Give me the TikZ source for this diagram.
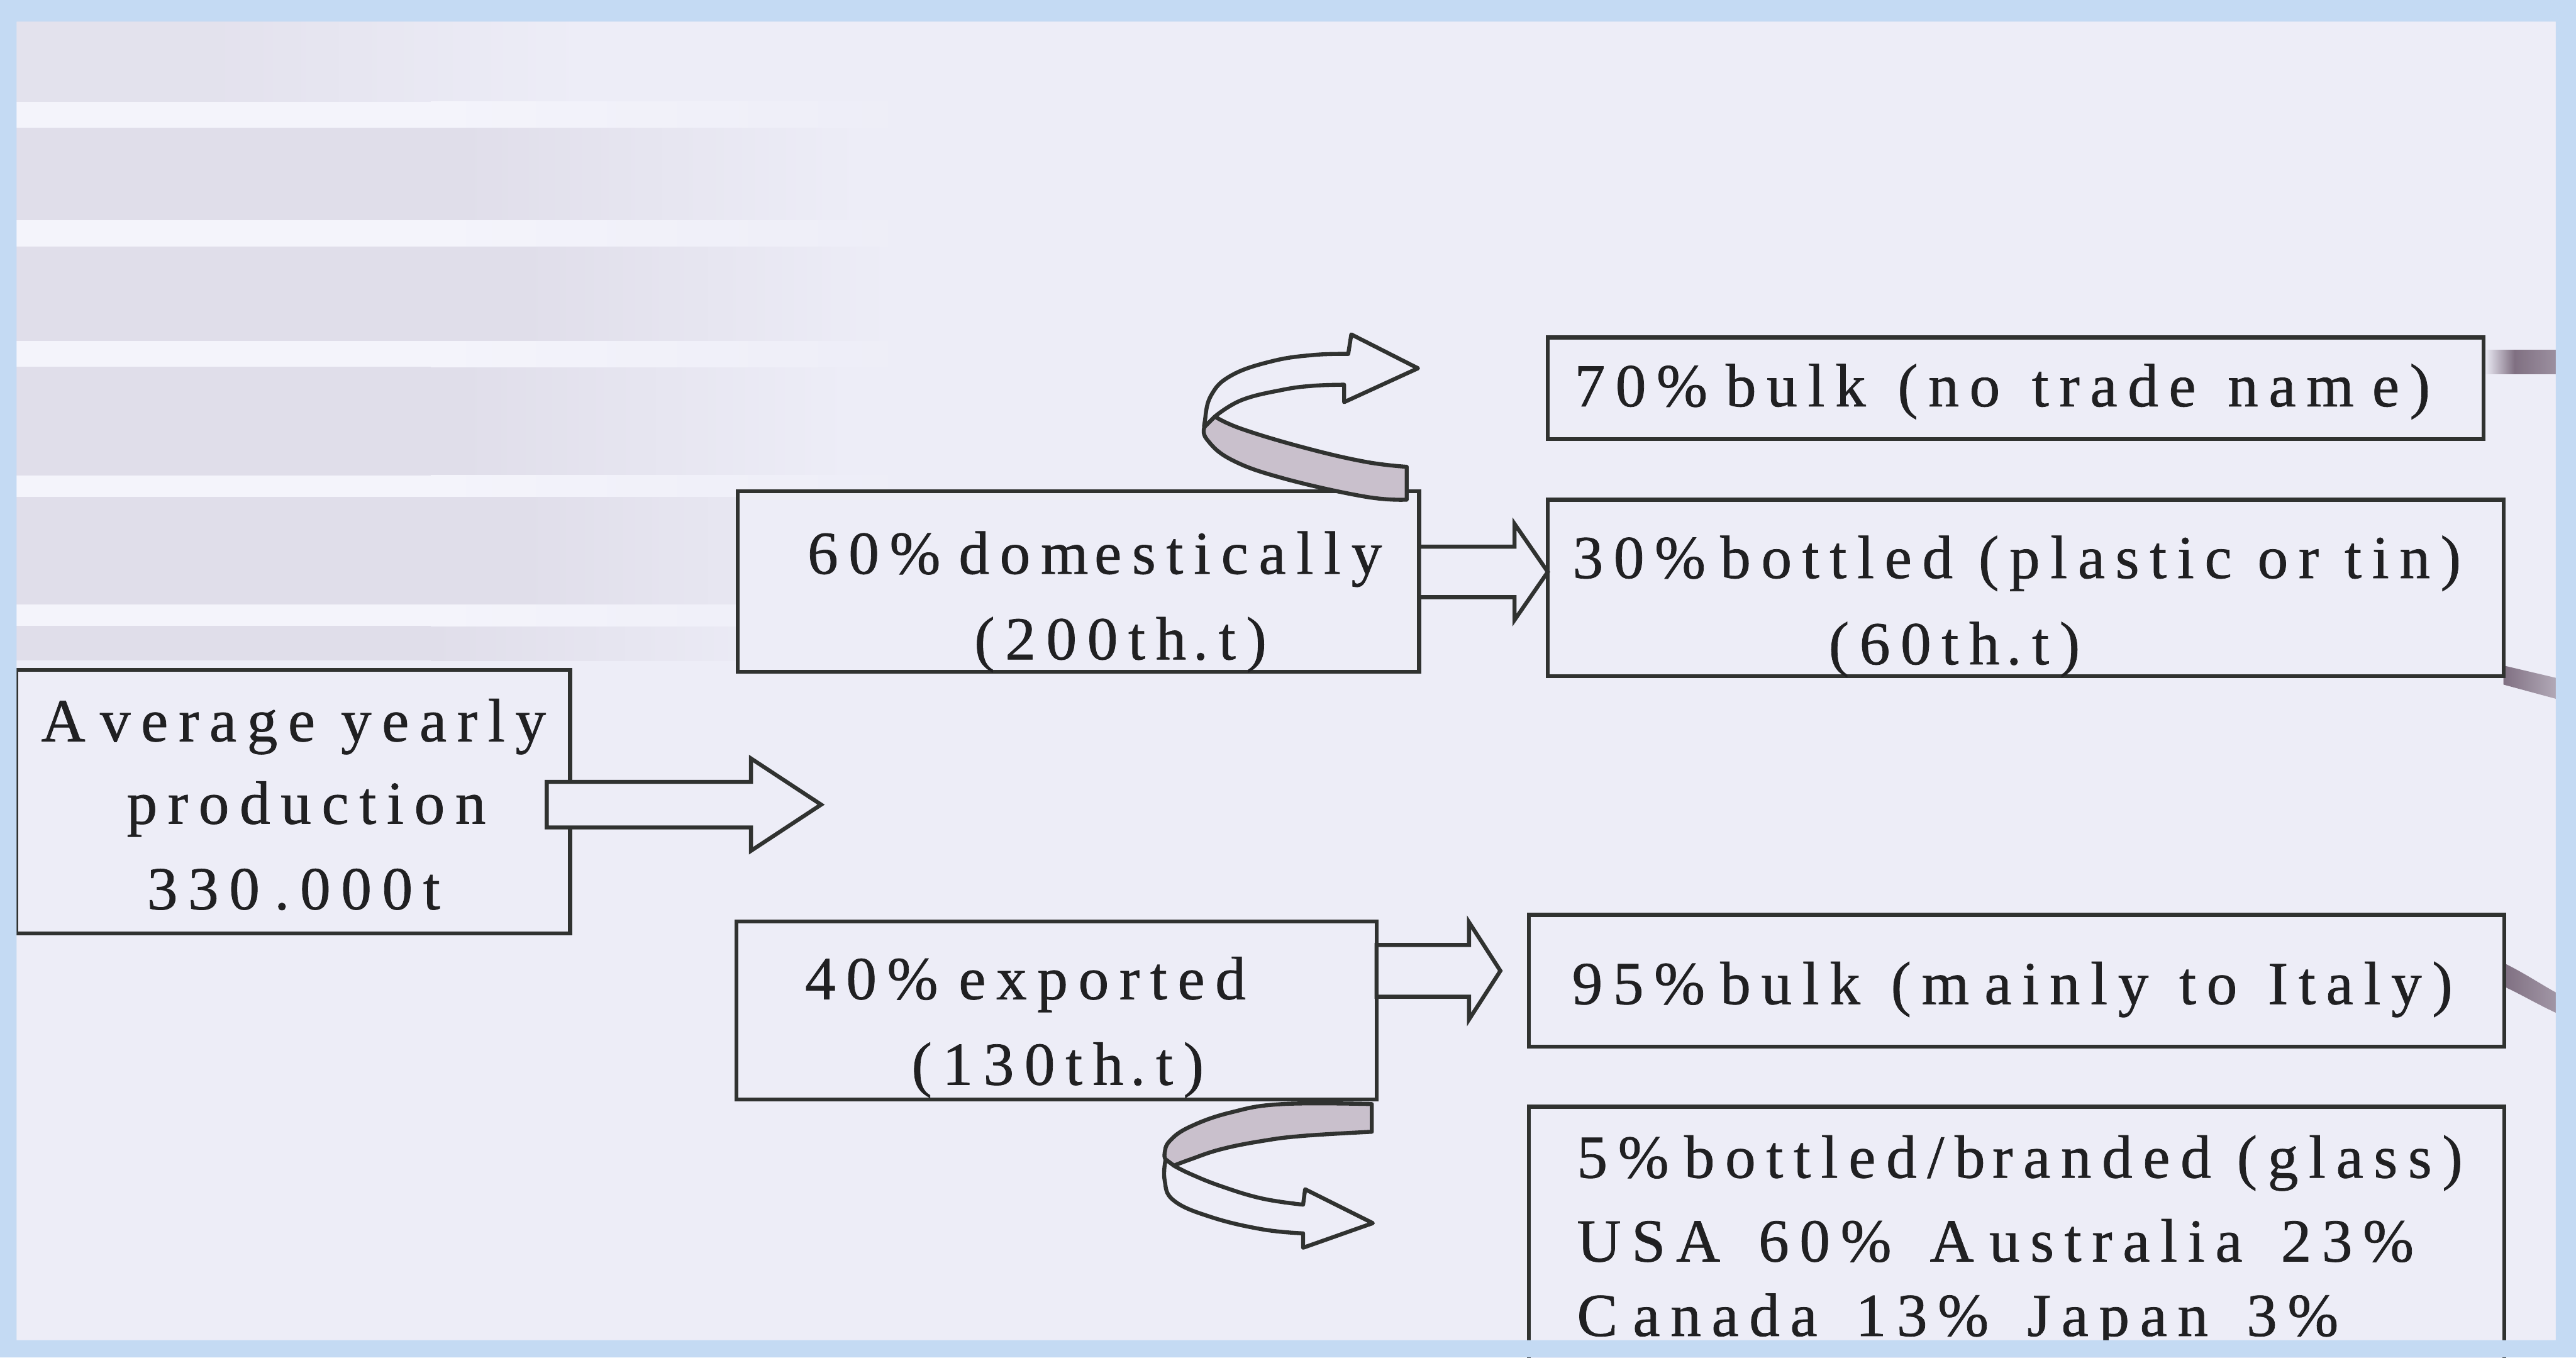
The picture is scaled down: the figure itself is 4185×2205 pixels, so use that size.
\documentclass[tikz,border=0pt]{standalone}
\usepackage{fontspec}
\setmainfont{Liberation Serif}[LetterSpace=17.2, FakeBold=0.8]
\usetikzlibrary{calc}

\definecolor{paper}{RGB}{237,237,247}
\definecolor{frameblue}{RGB}{196,218,243}
\definecolor{band}{RGB}{224,222,234}
\definecolor{bandlight}{RGB}{244,244,251}
\definecolor{ink}{RGB}{32,32,34}
\definecolor{edge}{RGB}{48,50,48}
\definecolor{ribbon}{RGB}{201,192,204}
\definecolor{smudge}{RGB}{128,112,130}

% gaps used in the labels
\newcommand\gp[1]{\kern#1em\relax}
\newcommand\wgap{\hspace{0.63em}}

% horizontal block arrow: start, tip, shaft half width, head half width, head length
\newcommand\blockarrow[5]{%
  \draw[blockarrow] ($(#1)+(0,-#3)$) -- ($(#2)+(-#5,-#3)$) -- ($(#2)+(-#5,-#4)$)
    -- (#2) -- ($(#2)+(-#5,#4)$) -- ($(#2)+(-#5,#3)$) -- ($(#1)+(0,#3)$) -- cycle;}

\begin{document}
\begin{tikzpicture}[x=0.01cm,y=-0.01cm,
  box/.style={draw=edge, line width=0.065cm, fill=paper, rectangle,
              inner sep=0pt, outer sep=0pt},
  lbl/.style={anchor=base west, inner sep=0pt, outer sep=0pt, text=ink,
              font=\fontsize{28.2pt}{34pt}\selectfont},
  blockarrow/.style={draw=edge, line width=0.065cm, fill=paper, line join=miter},
  ribbonback/.style={draw=edge, line width=0.065cm, fill=ribbon, line join=round},
  ribbonfront/.style={draw=edge, line width=0.065cm, fill=paper, line join=round}]

\useasboundingbox (0,0) rectangle (4185,2205);
\fill[paper] (0,0) rectangle (4185,2205);

% faded bands on the left
\foreach \ya/\yb/\xs/\xe/\p in {28/165/350/950/75, 207/358/750/1400/100,
    400/554/850/1450/100, 596/772/750/1380/100, 807/982/850/1450/100,
    1017/1073/700/1330/100} {
  \fill[band!\p!paper] (27,\ya) rectangle (\xs,\yb);
  \shade[left color=band!\p!paper, right color=paper] (\xs,\ya) rectangle (\xe,\yb);
}
\foreach \ya/\yb in {165/207, 358/400, 554/596, 772/807, 982/1017} {
  \fill[bandlight] (27,\ya) rectangle (700,\yb);
  \shade[left color=bandlight, right color=paper] (700,\ya) rectangle (1500,\yb);
}

% thick marks leaving the right-hand boxes
\shade[left color=paper, right color=smudge] (4036,569) rectangle (4085,607);
\shade[left color=smudge, right color=smudge!75!paper] (4085,569) rectangle (4152,607);
\shade[left color=smudge, right color=smudge!55!paper]
  (4067,1081) -- (4152,1101) -- (4152,1135) -- (4067,1112) -- cycle;
\shade[left color=smudge, right color=smudge!70!paper]
  (4069,1565) .. controls (4100,1580) and (4130,1600) .. (4152,1612)
  -- (4152,1645) .. controls (4120,1630) and (4095,1615) .. (4069,1603) -- cycle;

% boxes
\node[box, minimum width=8.99cm,  minimum height=4.28cm] (A) at (476.5,1302) {};
\node[box, minimum width=11.06cm, minimum height=2.93cm] (B) at (1752,944.5) {};
\node[box, minimum width=15.19cm, minimum height=1.65cm] (C) at (3274.5,630.5) {};
\node[box, minimum width=15.52cm, minimum height=2.86cm] (D) at (3291,955) {};
\node[box, minimum width=10.39cm, minimum height=2.89cm] (E) at (1716.5,1641.5) {};
\node[box, minimum width=15.84cm, minimum height=2.14cm] (F) at (3276,1593) {};
\node[box, minimum width=15.84cm, minimum height=4.42cm] (G) at (3276,2019) {};

% straight block arrows
\coordinate (a0) at ($(A.east)+(-38,5)$);
\coordinate (split) at (1334,1307);
\blockarrow{a0}{split}{37}{75}{114}

\coordinate (b0) at ($(B.east)+(0,-15.5)$);
\coordinate (b1) at (D.west |- b0);
\blockarrow{b0}{b1}{41}{78}{54}

\coordinate (e0) at ($(E.east)+(0,-64.5)$);
\coordinate (e1) at ($(F.west |- e0)+(-46,0)$);
\blockarrow{e0}{e1}{42}{79}{51}

% curved ribbon arrow from the domestic box
\begin{scope}[shift={(B.north east)}]
  \filldraw[ribbonback]
    plot[smooth, tension=0.7] coordinates {(-331.7,-121.3) (-288.3,-101.3)
      (-188.3,-71.3) (-88.3,-48) (-20,-39.7)}
    -- (-20,13.7)
    -- plot[smooth, tension=0.7] coordinates {(-20,13.7) (-88.3,8.7)
      (-221.7,-21.3) (-305,-51.3) (-345,-84.7) (-348.3,-104.7)}
    -- cycle;
  \filldraw[ribbonfront]
    plot[smooth, tension=0.7] coordinates {(-331.7,-121.3) (-288.3,-148)
      (-221.7,-164.7) (-171.7,-171.3) (-121.7,-173)}
    -- (-121.7,-144.7) -- (-1.7,-199.7) -- (-110,-254.7) -- (-115,-223)
    -- plot[smooth, tension=0.7] coordinates {(-115,-223) (-171.7,-221.3)
      (-238.3,-211.3) (-305,-188) (-338.3,-154.7) (-348.3,-111.3) (-348.3,-104.7)}
    -- cycle;
\end{scope}

% curved ribbon arrow from the export box
\begin{scope}[shift={(E.south east)}]
  \filldraw[ribbonback]
    plot[smooth, tension=0.7] coordinates {(-7.7,7.3) (-152.7,7.3) (-236,20.7)
      (-302.7,44) (-336,67.3) (-344.3,87.3) (-342.7,97.3)}
    -- (-329.3,107.3)
    -- plot[smooth, tension=0.7] coordinates {(-329.3,107.3) (-302.7,97.3)
      (-252.7,80.7) (-186,67.3) (-119.3,59) (-7.7,52.3)}
    -- cycle;
  \filldraw[ribbonfront]
    plot[smooth, tension=0.7] coordinates {(-329.3,107.3) (-302.7,120.7)
      (-252.7,140.7) (-186,160.7) (-119.3,170.7)}
    -- (-116,145.7) -- (-6,200.7) -- (-119.3,240.7) -- (-119.3,217.3)
    -- plot[smooth, tension=0.7] coordinates {(-119.3,217.3) (-186,210.7)
      (-269.3,190.7) (-329.3,164) (-344.3,130.7) (-342.7,97.3)}
    -- cycle;
\end{scope}

% labels
\node[lbl] (A1) at (67,1204)   {A\gp{0.24}verage yearly};
\node[lbl] (A2) at (206,1338)  {production};
\node[lbl] (A3) at (239,1477)  {330\gp{0.24}.000t};

\node[lbl] (B1) at (1312,932)  {60\%\gp{0.3}dom\gp{0.1}estically};
\node[lbl] (B2) at (1583,1071) {(200th\gp{0.11}.t)};

\node[lbl] (C1) at (2558,660)
  {70\%\gp{0.3}bulk \gp{0.1}(no \gp{0.1}trade \gp{0.1}nam\gp{0.3}e)};

\node[lbl] (D1) at (2555,939)  {30\%\gp{0.24}bottled (plastic or tin)};
\node[lbl] (D2) at (2971,1079) {(60th\gp{0.11}.t)};

\node[lbl] (E1) at (1308,1623) {40\%\gp{0.34}exported};
\node[lbl] (E2) at (1481,1762) {(130th\gp{0.11}.t)};

\node[lbl] (F1) at (2554,1631)
  {95\%\gp{0.25}bulk \gp{0.08}(m\gp{0.25}ainly \gp{0.08}to \gp{0.08}Italy)};

\node[lbl] (G1) at (2562,1913) {5\%\gp{0.25}bottled/b\gp{0.12}randed (glass)};
\node[lbl] (G2) at (2562,2049) {USA\wgap 60\%\wgap A\gp{0.25}ustralia\wgap 23\%};
\node[lbl] (G3) at (2562,2170) {C\gp{0.25}anada\wgap 13\%\wgap Japan\wgap 3\%};

% light blue frame round the page
\fill[frameblue, even odd rule] (0,0) rectangle (4185,2205) (27,35) rectangle (4152,2177);
\end{tikzpicture}
\end{document}
